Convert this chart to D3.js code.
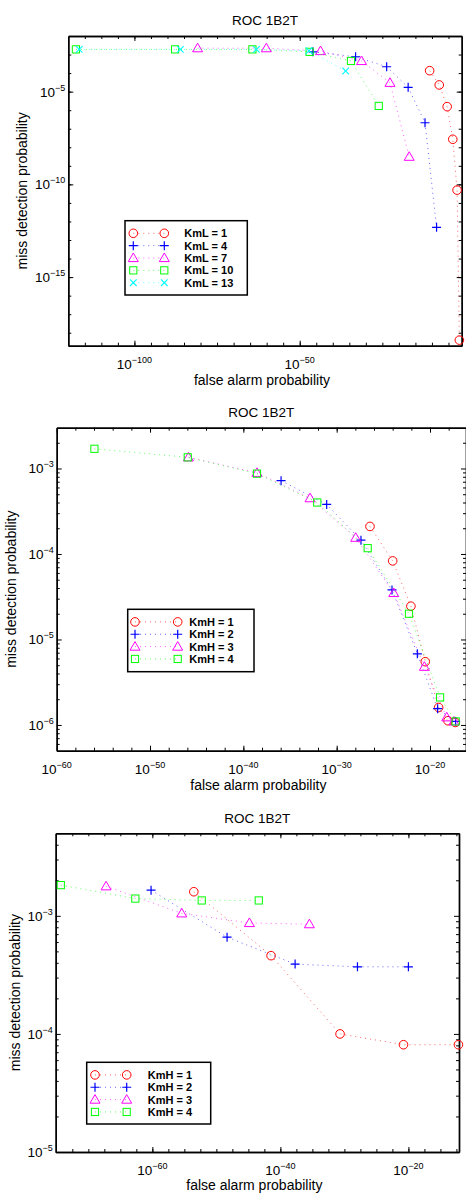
<!DOCTYPE html>
<html>
<head>
<meta charset="utf-8">
<script src="https://cdn.jsdelivr.net/npm/d3@7"></script>
<style>
  body { margin: 0; background: #fff; }
  text { font-family: "Liberation Sans", Arial, Helvetica, sans-serif; fill: #000; }
</style>
</head>
<body>
<div id="chart"></div>
<script>
// ---- panel 1 : KmL series ----
const roc1Names = ["KmL = 1", "KmL = 4", "KmL = 7", "KmL = 10", "KmL = 13"];
const roc1KmL1X = [2e-11, 1.6e-8, 4e-6, 2e-4, 4e-3, 2e-2];
const roc1KmL1Y = [1.35e-4, 2.3e-5, 1.55e-6, 2.7e-8, 4.9e-11, 4e-19];
const roc1KmL4X = [1e-46, 8e-34, 2e-24, 6.3e-18, 8e-13, 2.5e-9];
const roc1KmL4Y = [1.4e-3, 7.6e-4, 2.2e-4, 1.7e-5, 2.1e-7, 4.8e-13];
const roc1KmL7X = [1.3e-81, 8e-61, 2e-44, 5e-32, 2e-23, 1.3e-17];
const roc1KmL7Y = [2.2e-3, 2.2e-3, 1.55e-3, 4.5e-4, 3e-5, 3.1e-9];
const roc1KmL10X = [2e-118, 2e-88, 5e-65, 1e-47, 3.2e-35, 8e-27];
const roc1KmL10Y = [1.9e-3, 1.9e-3, 1.9e-3, 1.4e-3, 4.5e-4, 1.7e-6];
const roc1KmL13X = [2e-117, 8e-87, 8e-64, 6.3e-48, 8e-37];
const roc1KmL13Y = [1.9e-3, 1.9e-3, 1.9e-3, 1.6e-3, 1.3e-4];
const roc1XLabelExp = [-100, -50];
const roc1YLabelExp = [-5, -10, -15];

// ---- panel 2 : KmH series ----
const roc2Names = ["KmH = 1", "KmH = 2", "KmH = 3", "KmH = 4"];
const roc2KmH1X = [3.7e-27, 1e-24, 9e-23, 3.1e-21, 8.5e-20, 8.5e-19, 5.1e-18];
const roc2KmH1Y = [2.1e-4, 8.3e-5, 2.45e-5, 5.5e-6, 1.6e-6, 1.12e-6, 1.07e-6];
const roc2KmH2X = [1.1e-36, 8.5e-32, 4e-28, 8.5e-25, 4.4e-22, 6.6e-20, 5.6e-18];
const roc2KmH2Y = [7.2e-4, 3.8e-4, 1.45e-4, 3.8e-5, 6.8e-6, 1.55e-6, 1.1e-6];
const roc2KmH3X = [1.3e-46, 2.9e-39, 1.4e-33, 1.1e-28, 1.3e-24, 2.5e-21, 6.2e-19, 3.7e-18];
const roc2KmH3Y = [1.35e-3, 8.9e-4, 4.5e-4, 1.55e-4, 3.5e-5, 4.8e-6, 1.23e-6, 1.1e-6];
const roc2KmH4X = [1.1e-56, 1.1e-46, 2.9e-39, 8.3e-33, 2.1e-27, 5.6e-23, 1.2e-19, 5.6e-18];
const roc2KmH4Y = [1.7e-3, 1.35e-3, 8.7e-4, 4e-4, 1.17e-4, 2e-5, 2.1e-6, 1.1e-6];
const roc2XLabelExp = [-60, -50, -40, -30, -20];
const roc2YLabelExp = [-3, -4, -5, -6];

// ---- panel 3 : KmH series ----
const roc3Names = ["KmH = 1", "KmH = 2", "KmH = 3", "KmH = 4"];
const roc3KmH1X = [3e-54, 3.5e-42, 2.1e-31, 1.7e-21, 6.5e-13];
const roc3KmH1Y = [1.6e-3, 4.6e-4, 1e-4, 8.1e-5, 8.1e-5];
const roc3KmH2X = [6.3e-61, 4.7e-49, 2e-38, 1.1e-28, 1e-20];
const roc3KmH2Y = [1.65e-3, 6.6e-4, 3.9e-4, 3.7e-4, 3.7e-4];
const roc3KmH3X = [5.9e-68, 3.9e-56, 1.45e-45, 3.4e-36];
const roc3KmH3Y = [1.78e-3, 1.05e-3, 8.7e-4, 8.5e-4];
const roc3KmH4X = [5e-75, 2.2e-63, 5.2e-53, 4.2e-44];
const roc3KmH4Y = [1.82e-3, 1.4e-3, 1.35e-3, 1.35e-3];
const roc3XLabelExp = [-60, -40, -20];
const roc3YLabelExp = [-3, -4, -5];

const seriesColors = ["#ff0000", "#0000ff", "#ff00ff", "#00ff00", "#00ffff"];
const seriesMarkers = ["circle", "plus", "triangle", "square", "cross"];

const svg = d3.select("#chart")
    .append("svg")
    .attr("width", 466)
    .attr("height", 1195);

function drawMarker(g, type, cx, cy, color) {
    if (type === "circle") {
        g.append("circle").attr("cx", cx).attr("cy", cy).attr("r", 4.3)
            .attr("fill", "none").attr("stroke", color).attr("stroke-width", 1);
    } else if (type === "plus") {
        g.append("path").attr("d", `M${cx - 4.5},${cy}H${cx + 4.5}M${cx},${cy - 4.5}V${cy + 4.5}`)
            .attr("stroke", color).attr("stroke-width", 1.2).attr("fill", "none");
    } else if (type === "triangle") {
        g.append("path").attr("d", `M${cx},${cy - 5}L${cx + 5},${cy + 3.6}L${cx - 5},${cy + 3.6}Z`)
            .attr("stroke", color).attr("stroke-width", 1).attr("fill", "none");
    } else if (type === "square") {
        g.append("rect").attr("x", cx - 3.6).attr("y", cy - 3.6).attr("width", 7.2).attr("height", 7.2)
            .attr("stroke", color).attr("stroke-width", 1).attr("fill", "none");
    } else {
        g.append("path").attr("d", `M${cx - 3.3},${cy - 3.3}L${cx + 3.3},${cy + 3.3}M${cx - 3.3},${cy + 3.3}L${cx + 3.3},${cy - 3.3}`)
            .attr("stroke", color).attr("stroke-width", 1.1).attr("fill", "none");
    }
}

function powerLabel(sel, exp) {
    sel.append("tspan").text("10");
    sel.append("tspan").attr("dy", -6).style("font-size", "9px").text("\u2212" + Math.abs(exp));
}

function drawPanel(p) {
    const x = d3.scaleLog().domain(p.xDomain).range([p.left, p.right]);
    const y = d3.scaleLog().domain(p.yDomain).range([p.bottom, p.top]);
    const g = svg.append("g");

    // axes: ticks pointing inwards on all four sides
    const xMinor = p.xMinorExp.map(e => Math.pow(10, e));
    const xMajor = p.xLabelExp.map(e => Math.pow(10, e));
    const yMinor = p.yMinor.filter(v => v > p.yDomain[0] && v < p.yDomain[1]);
    const yMajor = p.yLabelExp.map(e => Math.pow(10, e));

    const axes = [
        [d3.axisBottom(x).tickValues(xMinor).tickSize(-3), `translate(0,${p.bottom})`],
        [d3.axisBottom(x).tickValues(xMajor).tickSize(-5), `translate(0,${p.bottom})`],
        [d3.axisTop(x).tickValues(xMinor).tickSize(-3), `translate(0,${p.top})`],
        [d3.axisTop(x).tickValues(xMajor).tickSize(-5), `translate(0,${p.top})`],
        [d3.axisLeft(y).tickValues(yMinor).tickSize(-3), `translate(${p.left},0)`],
        [d3.axisLeft(y).tickValues(yMajor).tickSize(-5), `translate(${p.left},0)`],
        [d3.axisRight(y).tickValues(yMinor).tickSize(-3), `translate(${p.right},0)`],
        [d3.axisRight(y).tickValues(yMajor).tickSize(-5), `translate(${p.right},0)`]
    ];
    axes.forEach(([ax, tr]) => {
        g.append("g")
            .attr("transform", tr)
            .call(ax.tickSizeOuter(0).tickFormat(""))
            .call(s => s.select(".domain").attr("stroke", "#000").attr("stroke-width", 1.4))
            .call(s => s.selectAll(".tick line").attr("stroke", "#000").attr("stroke-width", 1));
    });

    // tick labels
    p.xLabelExp.forEach(e => {
        g.append("text")
            .attr("x", x(Math.pow(10, e)))
            .attr("y", p.bottom + 23)
            .attr("text-anchor", "middle")
            .style("font-size", "13.5px")
            .call(powerLabel, e);
    });
    p.yLabelExp.forEach(e => {
        g.append("text")
            .attr("x", p.left - 3)
            .attr("y", y(Math.pow(10, e)) + 5)
            .attr("text-anchor", "end")
            .style("font-size", "13.5px")
            .call(powerLabel, e);
    });

    // series
    const line = d3.line().x(d => x(d[0])).y(d => y(d[1]));
    p.series.forEach((s, i) => {
        const pts = s.x.map((v, k) => [v, s.y[k]]);
        g.append("path")
            .attr("d", line(pts))
            .attr("fill", "none")
            .attr("stroke", seriesColors[i])
            .attr("stroke-width", 1)
            .attr("stroke-opacity", 0.6)
            .attr("stroke-dasharray", "1,4");
        pts.forEach(d => drawMarker(g, seriesMarkers[i], x(d[0]), y(d[1]), seriesColors[i]));
    });

    // legend
    const L = p.legend;
    const lg = g.append("g");
    lg.append("rect")
        .attr("x", L.x).attr("y", L.y).attr("width", L.w).attr("height", L.h)
        .attr("fill", "#fff").attr("stroke", "#000").attr("stroke-width", 1.5);
    p.series.forEach((s, i) => {
        const ry = L.y + 12.6 + i * 12.35;
        lg.append("line")
            .attr("x1", L.x + L.m1).attr("x2", L.x + L.m2)
            .attr("y1", ry).attr("y2", ry)
            .attr("stroke", seriesColors[i]).attr("stroke-opacity", 0.6)
            .attr("stroke-dasharray", "1,4");
        drawMarker(lg, seriesMarkers[i], L.x + L.m1, ry, seriesColors[i]);
        drawMarker(lg, seriesMarkers[i], L.x + L.m2, ry, seriesColors[i]);
        lg.append("text")
            .attr("x", L.x + L.tx).attr("y", ry + 4)
            .style("font-size", "11px").style("font-weight", "bold")
            .text(s.name);
    });

    // titles
    g.append("text")
        .attr("x", (p.left + p.right) / 2).attr("y", p.titleY)
        .attr("text-anchor", "middle").style("font-size", "13.5px")
        .text("ROC 1B2T");
    g.append("text")
        .attr("x", (p.left + p.right) / 2 - 3).attr("y", p.xLabelY)
        .attr("text-anchor", "middle").style("font-size", "14px")
        .text("false alarm probability");
    g.append("text")
        .attr("transform", `translate(${p.yLabelX},${(p.top + p.bottom) / 2}) rotate(-90)`)
        .attr("text-anchor", "middle").style("font-size", "14px")
        .text("miss detection probability");
}

function logMinor(lo, hi) {
    const out = [];
    for (let e = lo; e <= hi; e++) for (let m = 2; m <= 9; m++) out.push(m * Math.pow(10, e));
    return out;
}

function seriesOf(names, xs, ys) {
    return names.map((n, i) => ({ name: n, x: xs[i], y: ys[i] }));
}

drawPanel({
    left: 68.3, right: 461.7, top: 36, bottom: 345.7,
    xDomain: [1e-120, 1e-1], yDomain: [2e-19, 1e-2],
    xMinorExp: d3.range(-115, -1, 5), xLabelExp: roc1XLabelExp,
    yMinor: d3.range(-18, -2).map(e => Math.pow(10, e)), yLabelExp: roc1YLabelExp,
    series: seriesOf(roc1Names,
        [roc1KmL1X, roc1KmL4X, roc1KmL7X, roc1KmL10X, roc1KmL13X],
        [roc1KmL1Y, roc1KmL4Y, roc1KmL7Y, roc1KmL10Y, roc1KmL13Y]),
    legend: { x: 125, y: 220.7, w: 122.3, h: 74.3, m1: 8.3, m2: 39.3, tx: 59.3 },
    titleY: 25, xLabelY: 385, yLabelX: 27
});

drawPanel({
    left: 56.7, right: 466, top: 427.7, bottom: 750.7,
    xDomain: [1e-60, 7.2e-17], yDomain: [5e-7, 3e-3],
    xMinorExp: d3.range(-58, -16, 2), xLabelExp: roc2XLabelExp,
    yMinor: logMinor(-7, -3), yLabelExp: roc2YLabelExp,
    series: seriesOf(roc2Names,
        [roc2KmH1X, roc2KmH2X, roc2KmH3X, roc2KmH4X],
        [roc2KmH1Y, roc2KmH2Y, roc2KmH3Y, roc2KmH4Y]),
    legend: { x: 127.7, y: 609.3, w: 126.3, h: 62.4, m1: 7.3, m2: 50, tx: 61.6 },
    titleY: 416.7, xLabelY: 790, yLabelX: 16
});

drawPanel({
    left: 55.7, right: 459, top: 833.3, bottom: 1152,
    xDomain: [8e-76, 8e-13], yDomain: [1e-5, 5e-3],
    xMinorExp: d3.range(-72.5, -12, 2.5), xLabelExp: roc3XLabelExp,
    yMinor: logMinor(-5, -3), yLabelExp: roc3YLabelExp,
    series: seriesOf(roc3Names,
        [roc3KmH1X, roc3KmH2X, roc3KmH3X, roc3KmH4X],
        [roc3KmH1Y, roc3KmH2Y, roc3KmH3Y, roc3KmH4Y]),
    legend: { x: 86.7, y: 1062.3, w: 124, h: 61.7, m1: 8.3, m2: 40, tx: 61 },
    titleY: 822.7, xLabelY: 1190, yLabelX: 20
});
</script>
</body>
</html>
